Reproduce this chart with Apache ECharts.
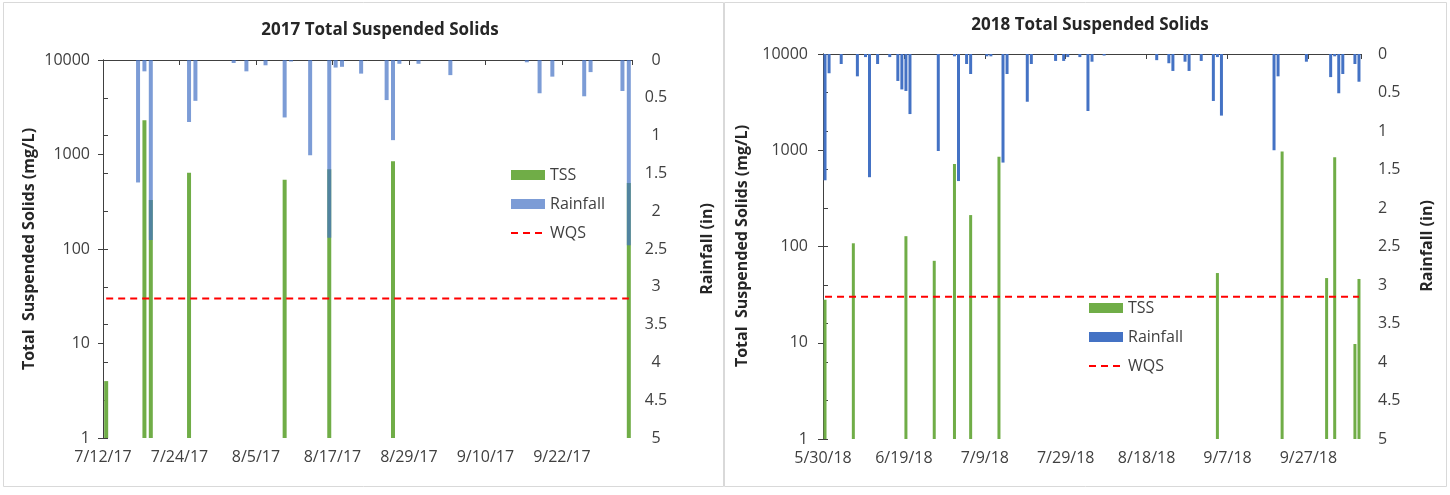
<!DOCTYPE html>
<html>
<head>
<meta charset="utf-8">
<script src="https://cdn.jsdelivr.net/npm/echarts@6/dist/echarts.min.js"></script>
<style>
  html, body { margin: 0; padding: 0; background: #ffffff; }
  #chart { width: 1450px; height: 495px; }
</style>
</head>
<body>
<div id="chart"></div>
<script>
// ---- 2017 season ----
const axisStart2017 = '7/12/17';
const axisDays2017 = 83;
const xTicks2017 = ['7/12/17', '7/24/17', '8/5/17', '8/17/17', '8/29/17', '9/10/17', '9/22/17'];
const rain2017Dates = ['7/17/17', '7/18/17', '7/19/17', '7/25/17', '7/26/17', '8/1/17', '8/3/17', '8/6/17',
  '8/9/17', '8/10/17', '8/13/17', '8/16/17', '8/17/17', '8/18/17', '8/21/17', '8/25/17', '8/26/17',
  '8/27/17', '8/30/17', '9/4/17', '9/16/17', '9/18/17', '9/20/17', '9/25/17', '9/26/17', '10/1/17', '10/2/17'];
const rain2017 = [1.62, 0.15, 2.38, 0.82, 0.54, 0.04, 0.15, 0.07,
  0.76, 0.02, 1.26, 2.35, 0.10, 0.09, 0.18, 0.53, 1.06,
  0.05, 0.05, 0.20, 0.03, 0.44, 0.22, 0.48, 0.16, 0.41, 2.45];
const tss2017Dates = ['7/12/17', '7/18/17', '7/19/17', '7/25/17', '8/9/17', '8/16/17', '8/26/17', '10/2/17'];
const tss2017 = [4, 2300, 330, 640, 540, 700, 850, 500];
const wqs2017Dates = ['7/12/17', '10/2/17'];

// ---- 2018 season ----
const axisStart2018 = '5/30/18';
const axisDays2018 = 133;
const xTicks2018 = ['5/30/18', '6/19/18', '7/9/18', '7/29/18', '8/18/18', '9/7/18', '9/27/18'];
const rain2018Dates = ['5/30/18', '5/31/18', '6/3/18', '6/7/18', '6/9/18', '6/10/18', '6/12/18', '6/15/18',
  '6/17/18', '6/18/18', '6/19/18', '6/20/18', '6/27/18', '7/1/18', '7/2/18', '7/4/18', '7/5/18',
  '7/9/18', '7/10/18', '7/13/18', '7/14/18', '7/19/18', '7/20/18', '7/26/18', '7/28/18', '7/29/18',
  '8/1/18', '8/3/18', '8/4/18', '8/7/18', '8/20/18', '8/23/18', '8/24/18', '8/27/18', '8/28/18',
  '8/31/18', '9/3/18', '9/4/18', '9/5/18', '9/18/18', '9/19/18', '9/26/18', '10/2/18', '10/3/18',
  '10/4/18', '10/5/18', '10/8/18', '10/9/18'];
const rain2018 = [1.64, 0.25, 0.13, 0.29, 0.04, 1.60, 0.13, 0.04,
  0.35, 0.46, 0.48, 0.78, 1.26, 0.03, 1.65, 0.13, 0.26,
  0.03, 0.03, 1.41, 0.26, 0.62, 0.13, 0.09, 0.09, 0.04,
  0.04, 0.74, 0.10, 0.02, 0.08, 0.12, 0.22, 0.10, 0.22,
  0.09, 0.61, 0.04, 0.80, 1.25, 0.29, 0.10, 0.30, 0.03,
  0.51, 0.26, 0.13, 0.36];
const tss2018Dates = ['5/30/18', '6/6/18', '6/19/18', '6/26/18', '7/1/18', '7/5/18', '7/12/18',
  '9/4/18', '9/20/18', '10/1/18', '10/3/18', '10/8/18', '10/9/18'];
const tss2018 = [28, 108, 128, 71, 720, 212, 857, 53, 970, 47, 845, 9.7, 46];
const wqs2018Dates = ['5/30/18', '10/9/18'];

// water quality standard for TSS (mg/L)
const WQS = 30;

const rainTicks = [0, 0.5, 1, 1.5, 2, 2.5, 3, 3.5, 4, 4.5, 5];

// day count from the first axis date; each day occupies one slot, marks sit mid-slot
function dayIndex(str, start) {
  const [m, d, y] = str.split('/').map(Number);
  const [m0, d0, y0] = start.split('/').map(Number);
  return Math.round((Date.UTC(2000 + y, m - 1, d) - Date.UTC(2000 + y0, m0 - 1, d0)) / 86400000);
}
function pairs(dates, values, start) {
  return dates.map((s, i) => [dayIndex(s, start) + 0.5, values[i]]);
}

const FONT = '"Open Sans", "Noto Sans", sans-serif';
const AXIS_COLOR = '#404040';
const LABEL_COLOR = '#404040';
const GREEN = '#70AD47';
const BLUE = '#4472C4';
const BLUE_SOFT = 'rgba(68,114,196,0.70)';

function dateAxis(gridIndex, days, ticks, step) {
  return {
    type: 'value', gridIndex, position: 'bottom', min: 0, max: days, interval: step,
    axisLine: { show: true, lineStyle: { color: AXIS_COLOR, width: 1 } },
    axisTick: { show: true, length: 5, lineStyle: { color: AXIS_COLOR } },
    axisLabel: {
      color: LABEL_COLOR, fontFamily: FONT, fontSize: 16, margin: 11,
      formatter: v => (v % step === 0 ? (ticks[v / step] || '') : '')
    },
    splitLine: { show: false }
  };
}
function topAxis(gridIndex, days) {
  return {
    type: 'value', gridIndex, position: 'top', min: 0, max: days,
    axisLine: { show: true, lineStyle: { color: AXIS_COLOR, width: 1 } },
    axisTick: { show: false }, axisLabel: { show: false }, splitLine: { show: false }
  };
}
function logAxis(gridIndex, margin) {
  return {
    type: 'log', logBase: 10, gridIndex, position: 'left', min: 1, max: 10000,
    axisLine: { show: true, lineStyle: { color: AXIS_COLOR, width: 1 } },
    axisTick: { show: true, length: 5, lineStyle: { color: AXIS_COLOR } },
    axisLabel: { color: LABEL_COLOR, fontFamily: FONT, fontSize: 16, margin, formatter: v => String(Math.round(v)) },
    splitLine: { show: false }
  };
}
function rainAxis(gridIndex, margin, align) {
  return {
    type: 'value', gridIndex, position: 'right', min: 0, max: 5, interval: 0.5, inverse: true,
    axisLine: { show: true, lineStyle: { color: AXIS_COLOR, width: 1 } },
    axisTick: { show: true, length: 5, lineStyle: { color: AXIS_COLOR } },
    axisLabel: { color: LABEL_COLOR, fontFamily: FONT, fontSize: 16, margin, align,
      formatter: v => String(rainTicks.find(t => Math.abs(t - v) < 1e-6) ?? v) },
    splitLine: { show: false }
  };
}
function legend(left, top, rainColor) {
  return {
    orient: 'vertical', left, top, padding: 0, itemGap: 13, itemWidth: 34, itemHeight: 10,
    textStyle: { color: LABEL_COLOR, fontFamily: FONT, fontSize: 16, lineHeight: 16 },
    data: [
      { name: 'TSS', icon: 'rect', itemStyle: { color: GREEN } },
      { name: 'Rainfall', icon: 'rect', itemStyle: { color: rainColor } },
      { name: 'WQS', itemStyle: { opacity: 0 }, lineStyle: { color: '#FF0000', width: 2, type: [7, 5], opacity: 1 } }
    ],
    selectedMode: false
  };
}
function text(x, y, str, size, rotation) {
  return {
    type: 'text', x, y, rotation: rotation || 0, silent: true,
    style: { text: str, fill: '#262626', font: `bold ${size}px ${FONT}`, align: 'center', verticalAlign: 'middle' }
  };
}

const chart = echarts.init(document.getElementById('chart'), null, { renderer: 'canvas' });
chart.setOption({
  animation: false,
  backgroundColor: '#ffffff',
  grid: [
    { left: 103, top: 60, width: 529, height: 378 },
    { left: 823, top: 54, width: 538, height: 385 }
  ],
  xAxis: [
    dateAxis(0, axisDays2017, xTicks2017, 12),
    topAxis(0, axisDays2017),
    dateAxis(1, axisDays2018, xTicks2018, 20),
    topAxis(1, axisDays2018)
  ],
  yAxis: [
    logAxis(0, 13),
    rainAxis(0, 24, 'center'),
    logAxis(1, 15),
    rainAxis(1, 17, 'left')
  ],
  legend: [legend(510, 167, BLUE_SOFT), legend(1088, 300, BLUE)],
  graphic: [
    { type: 'rect', shape: { x: 3.5, y: 2.5, width: 720, height: 484 }, style: { fill: 'none', stroke: '#d9d9d9', lineWidth: 1 }, silent: true },
    { type: 'rect', shape: { x: 724.5, y: 2.5, width: 722, height: 484 }, style: { fill: 'none', stroke: '#d9d9d9', lineWidth: 1 }, silent: true },
    text(380, 30, '2017 Total Suspended Solids', 17),
    text(1090, 25, '2018 Total Suspended Solids', 17),
    text(29, 249, 'Total  Suspended Solids (mg/L)', 16, Math.PI / 2),
    text(707, 249, 'Rainfall (in)', 16, Math.PI / 2),
    text(742, 246, 'Total  Suspended Solids (mg/L)', 16, Math.PI / 2),
    text(1427, 246, 'Rainfall (in)', 16, Math.PI / 2)
  ],
  series: [
    { name: 'TSS', type: 'bar', xAxisIndex: 0, yAxisIndex: 0, barWidth: 4,
      itemStyle: { color: GREEN }, data: pairs(tss2017Dates, tss2017, axisStart2017) },
    { name: 'Rainfall', type: 'bar', xAxisIndex: 1, yAxisIndex: 1, barWidth: 4,
      itemStyle: { color: BLUE_SOFT }, data: pairs(rain2017Dates, rain2017, axisStart2017) },
    { name: 'WQS', type: 'line', xAxisIndex: 0, yAxisIndex: 0, symbol: 'none',
      lineStyle: { color: '#FF0000', width: 2, type: [7, 5] }, itemStyle: { color: '#FF0000' },
      data: pairs(wqs2017Dates, wqs2017Dates.map(() => WQS), axisStart2017) },
    { name: 'TSS', type: 'bar', xAxisIndex: 2, yAxisIndex: 2, barWidth: 3,
      itemStyle: { color: GREEN }, data: pairs(tss2018Dates, tss2018, axisStart2018) },
    { name: 'Rainfall', type: 'bar', xAxisIndex: 3, yAxisIndex: 3, barWidth: 3,
      itemStyle: { color: BLUE }, data: pairs(rain2018Dates, rain2018, axisStart2018) },
    { name: 'WQS', type: 'line', xAxisIndex: 2, yAxisIndex: 2, symbol: 'none',
      lineStyle: { color: '#FF0000', width: 2, type: [7, 5] }, itemStyle: { color: '#FF0000' },
      data: pairs(wqs2018Dates, wqs2018Dates.map(() => WQS), axisStart2018) }
  ]
});
</script>
</body>
</html>
